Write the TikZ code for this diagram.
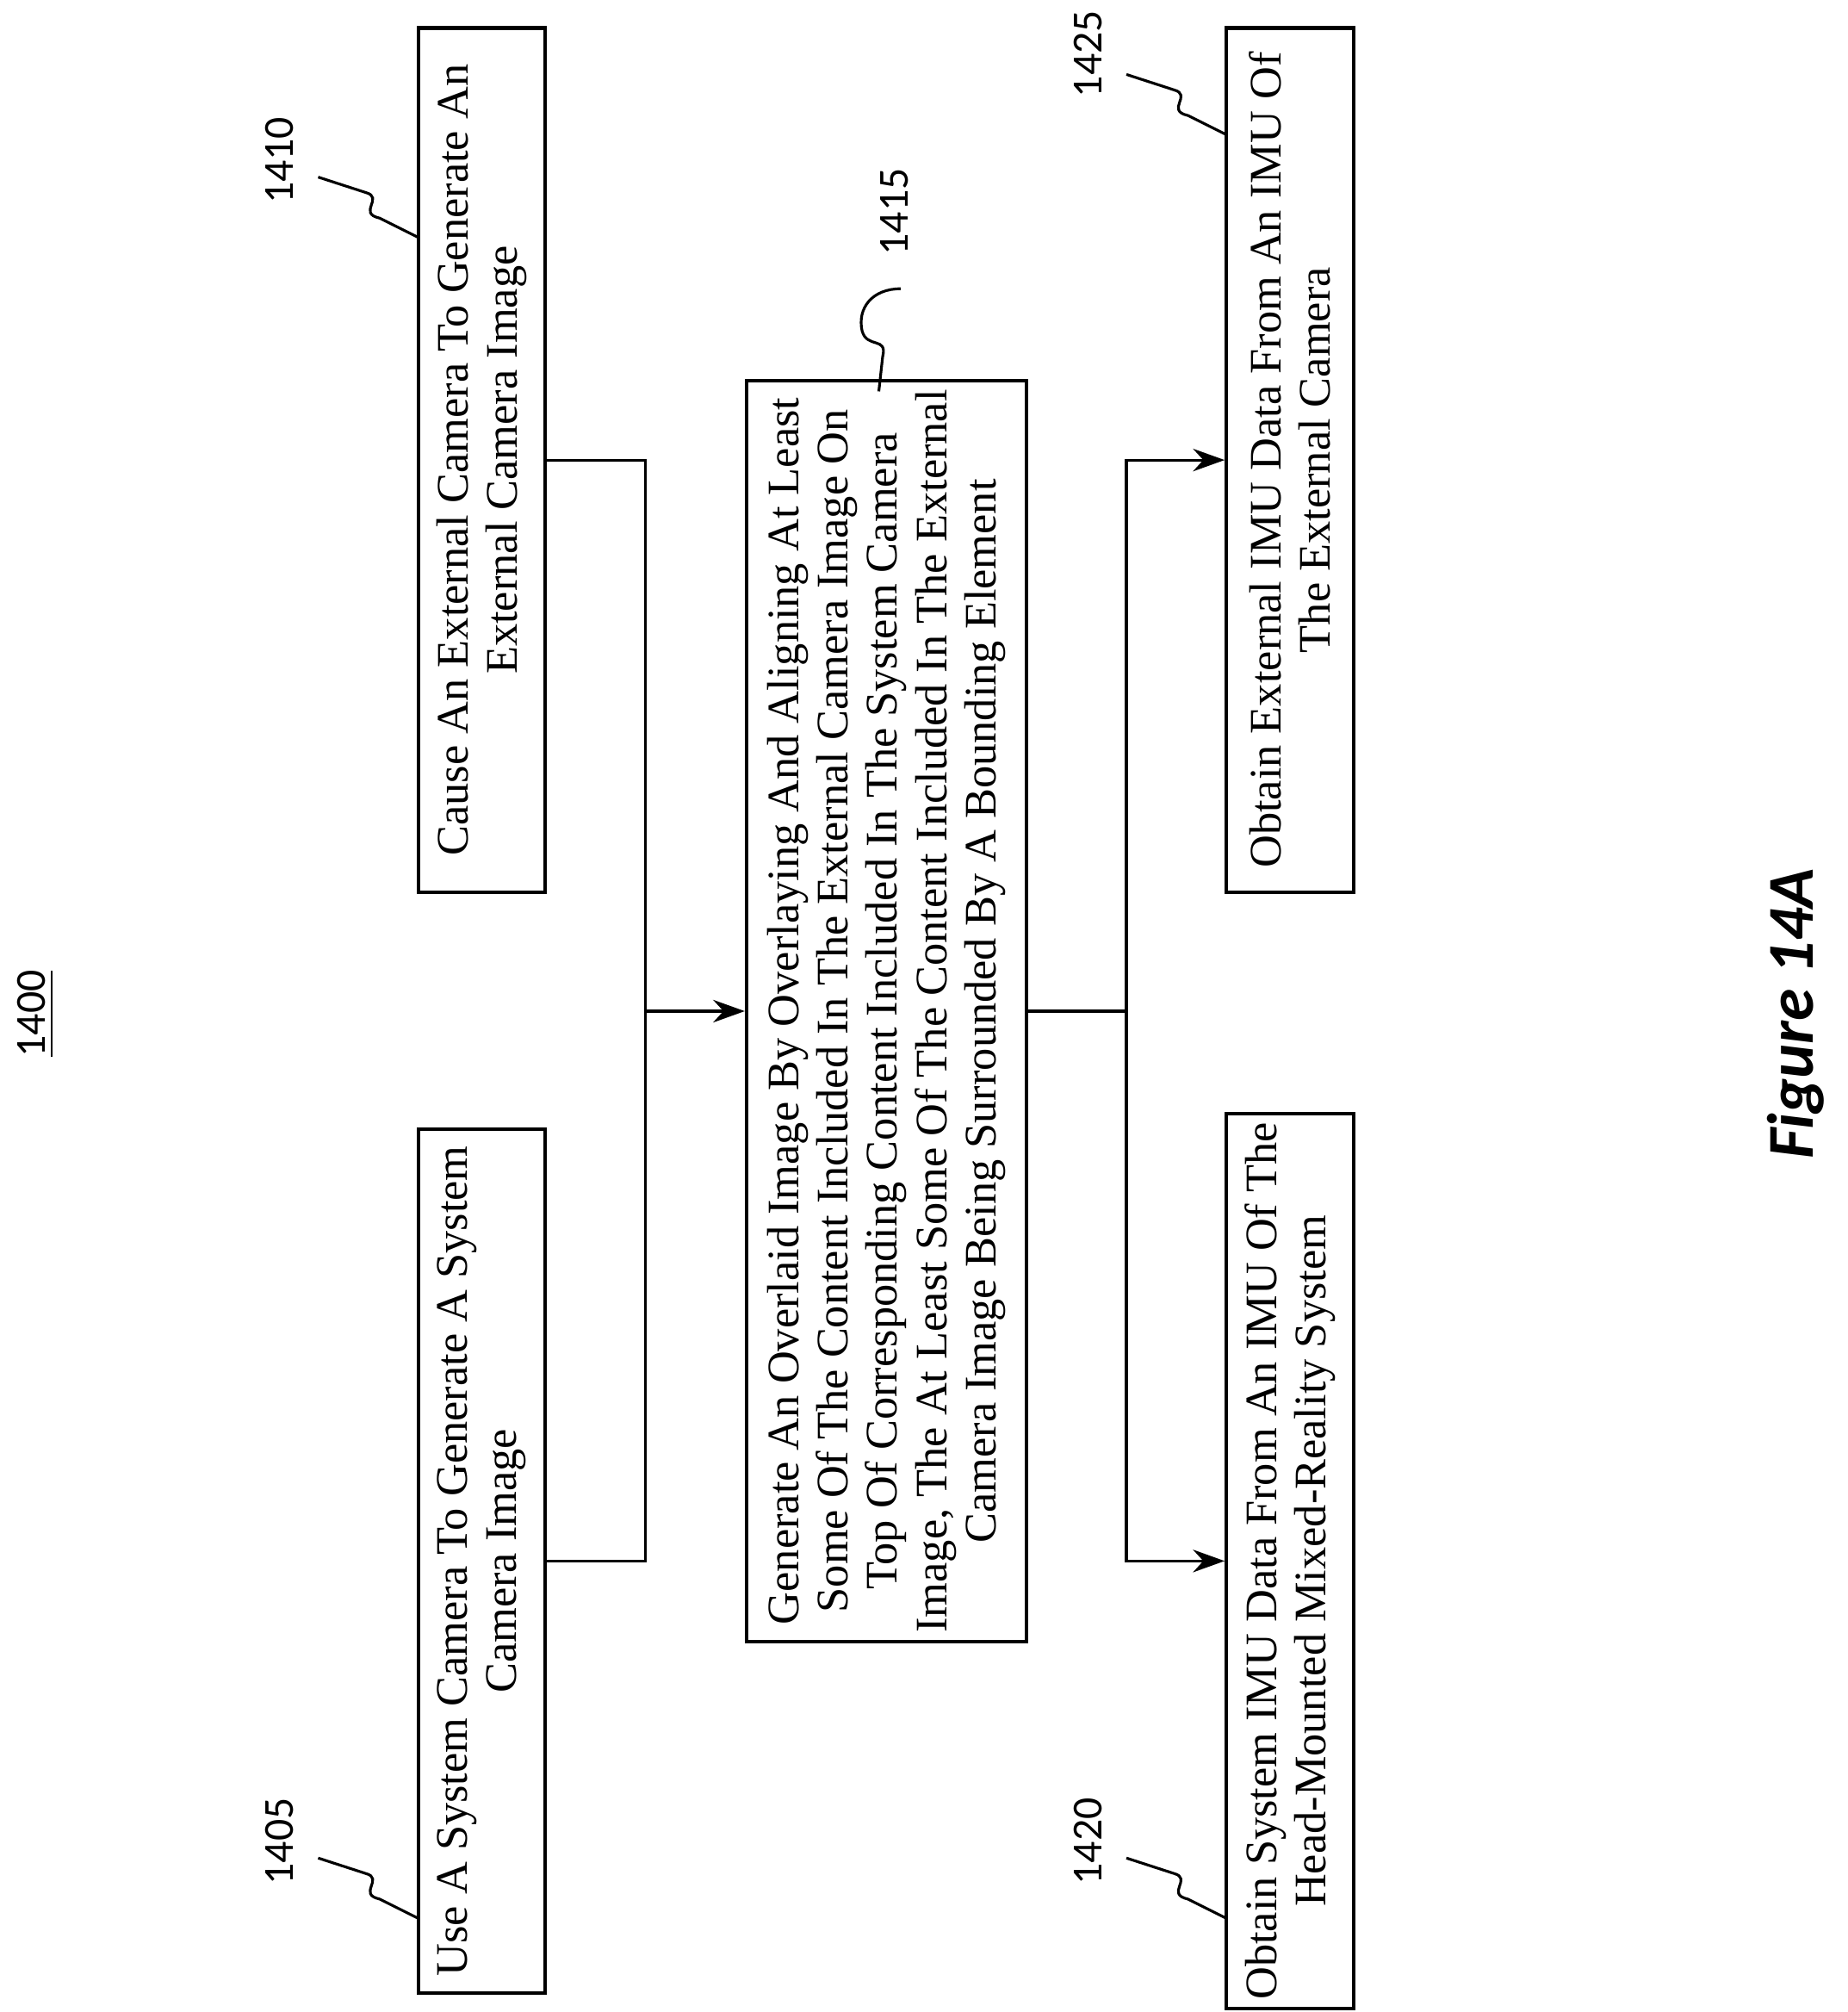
\documentclass[tikz,border=0pt]{standalone}
\usepackage{fontspec}
\setmainfont{Liberation Serif}
\newfontfamily\lblfont{Carlito}
\usetikzlibrary{arrows.meta}
\begin{document}
\begin{tikzpicture}[x=0.01cm,y=-0.01cm,
  box/.style={draw,line width=0.8pt,rotate=90,align=center,inner sep=2pt,font=\fontsize{10}{10.9}\selectfont},
  lbl/.style={rotate=90,font=\lblfont\fontsize{9.5}{11}\selectfont},
  con/.style={line width=0.6pt},
  arr/.style={con,-{Stealth[length=7pt,width=5pt]}},
  sq/.style={line width=0.6pt}]
\useasboundingbox (0,0) rectangle (1440,1568);
\node[box,minimum width=6.73cm,minimum height=0.99cm] (b1405) at (375.5,1216.5) {Use A System Camera To Generate A System\\Camera Image};
\node[box,minimum width=6.73cm,minimum height=0.99cm] (b1410) at (375.5,358.5) {Cause An External Camera To Generate An\\External Camera Image};
\node[box,minimum width=9.66cm,minimum height=2.18cm] (b1415) at (691,788) {Generate An Overlaid Image By Overlaying And Aligning At Least\\Some Of The Content Included In The External Camera Image On\\Top Of Corresponding Content Included In The System Camera\\Image, The At Least Some Of The Content Included In The External\\Camera Image Being Surrounded By A Bounding Element};
\node[box,minimum width=6.73cm,minimum height=0.99cm] (b1420) at (1005.5,1216.5) {Obtain System IMU Data From An IMU Of The\\Head-Mounted Mixed-Reality System};
\node[box,minimum width=6.73cm,minimum height=0.99cm] (b1425) at (1005.5,358.5) {Obtain External IMU Data From An IMU Of\\The External Camera};
\coordinate (j) at (503,788);
\coordinate (k) at (878,788);
\draw[con] (b1405.south) -| (j);
\draw[con] (b1410.south) -| (j);
\draw[arr] (j) -- (b1415.north);
\draw[con] (b1415.south) -- (k);
\draw[arr] (k) |- (b1420.north);
\draw[arr] (k) |- (b1425.north);
\node[lbl] (l1400) at (28,790) {\underline{1400}};
\node[lbl] (l1405) at (218,1435) {1405};
\node[lbl] (l1410) at (218,125) {1410};
\node[lbl] (l1415) at (697,165) {1415};
\node[lbl] (l1420) at (848,1435) {1420};
\node[lbl] (l1425) at (848,42) {1425};
\node[rotate=90,font=\lblfont\bfseries\itshape\fontsize{14.5}{16}\selectfont] (fig) at (1400,790) {Figure 14A};
\draw[sq] (248,1448) -- (285,1460) .. controls (300,1464) and (278,1476) .. (296,1480) -- (326,1495);
\draw[sq] (248,138) -- (285,150) .. controls (300,154) and (278,166) .. (296,170) -- (326,185);
\draw[sq] (878,1448) -- (915,1460) .. controls (930,1464) and (908,1476) .. (926,1480) -- (956,1495);
\draw[sq] (878,58) -- (915,70) .. controls (930,74) and (908,86) .. (926,90) -- (956,105);
\draw[sq] (702,225) .. controls (680,225) and (668,240) .. (672,258) .. controls (676,272) and (692,262) .. (688,278) -- (685,305);
\end{tikzpicture}
\end{document}
